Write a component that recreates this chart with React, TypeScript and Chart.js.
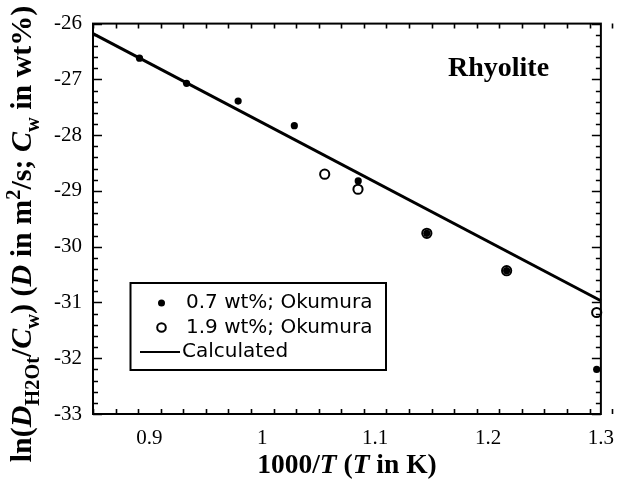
import React, { useEffect, useRef } from 'react';
import { Chart, registerables } from 'chart.js';

Chart.register(...registerables);

// ---- data ----
const X_FILLED = [0.8912, 0.9329, 0.9786, 1.0284, 1.085, 1.1458, 1.2165, 1.2963];
const Y_FILLED = [-26.62, -27.07, -27.39, -27.83, -28.82, -29.76, -30.43, -32.2];
const X_OPEN = [1.0553, 1.0848, 1.1458, 1.2165, 1.2963];
const Y_OPEN = [-28.7, -28.97, -29.76, -30.43, -31.18];
const X_CALC = [0.85, 1.3];
const Y_CALC = [-26.18, -30.97];
const X_TICKS = [0.9, 1, 1.1, 1.2, 1.3];
const Y_TICKS = [-33, -32, -31, -30, -29, -28, -27, -26];
const SERIES_LABELS = ['0.7 wt%; Okumura', '1.9 wt%; Okumura', 'Calculated'];
const PANEL_LABEL = 'Rhyolite';

const X_MIN = 0.85;
const X_MAX = 1.3;
const Y_MIN = -33;
const Y_MAX = -26;
const X_MINOR_STEP = 0.02;
const Y_MINOR_STEP = 0.2;

const SERIF = '"Liberation Serif", "Times New Roman", serif';
const SANS = '"DejaVu Sans", Verdana, sans-serif';

type Seg = { t: string; it?: boolean; sub?: boolean; sup?: boolean };

const Y_TITLE: Seg[] = [
  { t: 'ln(' },
  { t: 'D', it: true },
  { t: 'H2Ot', sub: true },
  { t: '/' },
  { t: 'C', it: true },
  { t: 'w', sub: true },
  { t: ') (' },
  { t: 'D', it: true },
  { t: ' in m' },
  { t: '2', sup: true },
  { t: '/s; ' },
  { t: 'C', it: true },
  { t: 'w', sub: true },
  { t: ' in wt%)' },
];

const X_TITLE: Seg[] = [
  { t: '1000/' },
  { t: 'T', it: true },
  { t: ' (' },
  { t: 'T', it: true },
  { t: ' in K)' },
];

function segFont(s: Seg, size: number) {
  const sz = s.sub || s.sup ? size * 0.68 : size;
  return `${s.it ? 'italic ' : ''}bold ${sz}px ${SERIF}`;
}

function drawRich(ctx: CanvasRenderingContext2D, segs: Seg[], size: number, cx: number, baseY: number) {
  let total = 0;
  for (const s of segs) {
    ctx.font = segFont(s, size);
    total += ctx.measureText(s.t).width;
  }
  let x = cx - total / 2;
  ctx.textBaseline = 'alphabetic';
  ctx.textAlign = 'left';
  for (const s of segs) {
    ctx.font = segFont(s, size);
    const dy = s.sub ? size * 0.25 : s.sup ? -size * 0.38 : 0;
    ctx.fillText(s.t, x, baseY + dy);
    x += ctx.measureText(s.t).width;
  }
}

const decorPlugin = {
  id: 'decor',
  afterDraw(chart: any) {
    const { ctx, chartArea } = chart;
    const { left, right, top, bottom } = chartArea;
    const xs = chart.scales.x;
    const ys = chart.scales.y;
    ctx.save();
    ctx.strokeStyle = '#000';
    ctx.fillStyle = '#000';

    // frame
    ctx.lineWidth = 2;
    ctx.strokeRect(left, top, right - left, bottom - top);

    // ticks (inward, all four sides)
    ctx.lineWidth = 1.6;
    ctx.beginPath();
    const nx = Math.round((X_MAX - X_MIN) / X_MINOR_STEP);
    for (let i = 0; i <= nx; i++) {
      const v = X_MIN + i * X_MINOR_STEP;
      const major = X_TICKS.some((t) => Math.abs(t - v) < 1e-6);
      const len = major ? 9 : 5;
      const px = Math.round(xs.getPixelForValue(v)) + 0.5;
      ctx.moveTo(px, bottom);
      ctx.lineTo(px, bottom - len);
      ctx.moveTo(px, top);
      ctx.lineTo(px, top + len);
    }
    const ny = Math.round((Y_MAX - Y_MIN) / Y_MINOR_STEP);
    for (let i = 0; i <= ny; i++) {
      const v = Y_MIN + i * Y_MINOR_STEP;
      const major = Y_TICKS.some((t) => Math.abs(t - v) < 1e-6);
      const len = major ? 9 : 5;
      const py = Math.round(ys.getPixelForValue(v)) + 0.5;
      ctx.moveTo(left, py);
      ctx.lineTo(left + len, py);
      ctx.moveTo(right, py);
      ctx.lineTo(right - len, py);
    }
    ctx.stroke();

    // axis titles
    drawRich(ctx, X_TITLE, 27.5, (left + right) / 2, 473);
    ctx.save();
    ctx.translate(31, 234);
    ctx.rotate(-Math.PI / 2);
    drawRich(ctx, Y_TITLE, 30, 0, 0);
    ctx.restore();

    // panel label
    ctx.font = `bold 28px ${SERIF}`;
    ctx.textAlign = 'left';
    ctx.textBaseline = 'alphabetic';
    ctx.fillText(PANEL_LABEL, 448, 76);

    // legend box
    const bx = 130.5, by = 283, bw = 255.5, bh = 87;
    ctx.lineWidth = 2;
    ctx.strokeRect(bx, by, bw, bh);
    const rows = [303, 327.5, 352];
    ctx.font = `20px ${SANS}`;
    ctx.textBaseline = 'middle';
    ctx.textAlign = 'left';
    const ds = chart.data.datasets;
    ctx.beginPath();
    ctx.arc(161.5, rows[0], 3.5, 0, Math.PI * 2);
    ctx.fill();
    ctx.beginPath();
    ctx.lineWidth = 2;
    ctx.arc(161.5, rows[1], 4.3, 0, Math.PI * 2);
    ctx.stroke();
    ctx.beginPath();
    ctx.lineWidth = 2;
    ctx.moveTo(140, rows[2]);
    ctx.lineTo(180, rows[2]);
    ctx.stroke();
    ctx.fillText(ds[0].label, 186, rows[0]);
    ctx.fillText(ds[1].label, 186, rows[1]);
    ctx.fillText(ds[2].label, 182, rows[2]);

    ctx.restore();
  },
};

export default function App() {
  const ref = useRef<HTMLCanvasElement | null>(null);

  useEffect(() => {
    document.body.style.margin = '0';
    const canvas = ref.current;
    if (!canvas) return;
    const chart = new Chart(canvas, {
      type: 'scatter',
      data: {
        datasets: [
          {
            label: SERIES_LABELS[0],
            data: X_FILLED.map((x, i) => ({ x, y: Y_FILLED[i] })),
            pointRadius: 3.6,
            pointBackgroundColor: '#000',
            pointBorderWidth: 0,
            showLine: false,
            clip: false,
          },
          {
            label: SERIES_LABELS[1],
            data: X_OPEN.map((x, i) => ({ x, y: Y_OPEN[i] })),
            pointRadius: 4.6,
            pointBackgroundColor: 'rgba(0,0,0,0)',
            pointBorderColor: '#000',
            pointBorderWidth: 2,
            showLine: false,
            clip: false,
          },
          {
            label: SERIES_LABELS[2],
            data: X_CALC.map((x, i) => ({ x, y: Y_CALC[i] })),
            showLine: true,
            borderColor: '#000',
            borderWidth: 3,
            pointRadius: 0,
            clip: false,
          },
        ] as any,
      },
      options: {
        responsive: false,
        animation: false,
        events: [],
        layout: { padding: { left: 0, top: 15, right: 14, bottom: 0 }, autoPadding: false } as any,
        plugins: { legend: { display: false }, tooltip: { enabled: false } },
        scales: {
          x: {
            type: 'linear',
            min: X_MIN,
            max: X_MAX,
            afterFit: (s: any) => {
              s.height = 68;
            },
            afterBuildTicks: (s: any) => {
              s.ticks = X_TICKS.map((v) => ({ value: v }));
            },
            grid: { display: false, drawTicks: false },
            border: { display: false },
            ticks: {
              color: '#000',
              font: { family: SERIF, size: 21 },
              padding: 12,
              maxRotation: 0,
              autoSkip: false,
              callback: (v: any) => String(v),
            },
          },
          y: {
            type: 'linear',
            min: Y_MIN,
            max: Y_MAX,
            afterFit: (s: any) => {
              s.width = 93;
            },
            afterBuildTicks: (s: any) => {
              s.ticks = Y_TICKS.map((v) => ({ value: v }));
            },
            grid: { display: false, drawTicks: false },
            border: { display: false },
            ticks: {
              color: '#000',
              font: { family: SERIF, size: 21 },
              padding: 11,
              autoSkip: false,
              callback: (v: any) => String(v),
            },
          },
        } as any,
      },
      plugins: [decorPlugin as any],
    });
    return () => chart.destroy();
  }, []);

  return (
    <div style={{ position: 'relative', width: 626, height: 482 }}>
      <canvas ref={ref} width={626} height={482} style={{ display: 'block', width: 626, height: 482 }} />
    </div>
  );
}
